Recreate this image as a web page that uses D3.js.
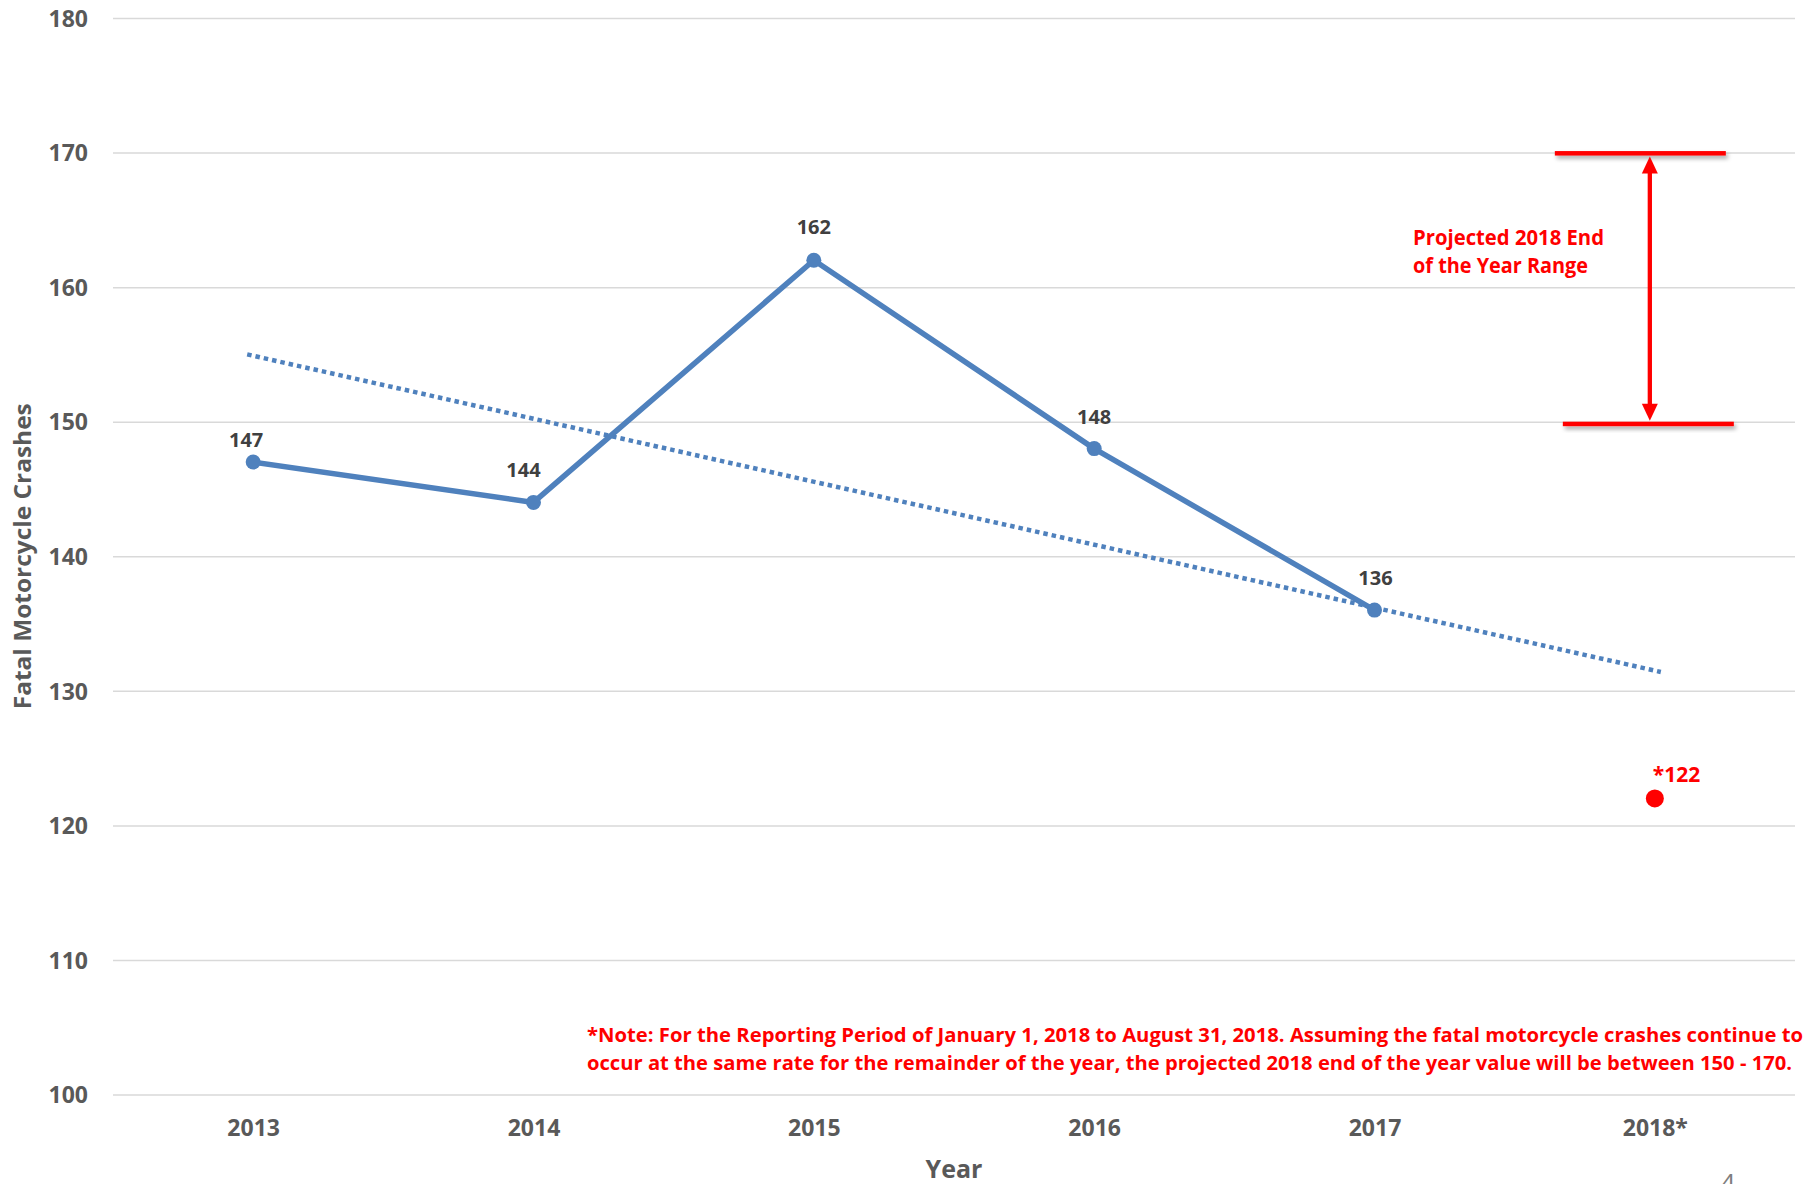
<!DOCTYPE html>
<html lang="en">
  <head>
    <meta charset="utf-8">
    <title>Fatal Motorcycle Crashes</title>
    <style>
      html, body { margin: 0; padding: 0; background: #fff; }
      svg { display: block; font-family: "Open Sans", sans-serif; }
    </style>
  </head>
  <body>
    <svg class="chart"></svg>

    <script src="https://d3js.org/d3.v7.min.js"></script>

    <script type="text/javascript">
      // data
      var years = ['2013', '2014', '2015', '2016', '2017', '2018*'];
      var crashes = [147, 144, 162, 148, 136];
      var partial2018 = 122;
      var trendEnds = [155.0, 131.4];        // linear trendline at 2013 and 2018*
      var projectedRange = [150, 170];
      var yTicks = [100, 110, 120, 130, 140, 150, 160, 170, 180];
      var noteLines = [
        '*Note: For the Reporting Period of January 1, 2018 to August 31, 2018.  Assuming the fatal motorcycle crashes continue to',
        'occur at the same rate for the remainder of the year, the projected 2018 end of the year value will be between 150 - 170.'
      ];

      var w = 1810;
      var h = 1184;
      var plotLeft = 113, plotRight = 1795, plotTop = 18, plotBottom = 1094.5;

      var svg = d3.select('.chart')
                  .attr('width', w)
                  .attr('height', h);

      var defs = svg.append('defs');
      var shadow = defs.append('filter')
                       .attr('id', 'shadow')
                       .attr('x', '-10%').attr('y', '-150%')
                       .attr('width', '120%').attr('height', '400%');
      shadow.append('feDropShadow')
            .attr('dx', 2).attr('dy', 3)
            .attr('stdDeviation', 2)
            .attr('flood-color', '#000')
            .attr('flood-opacity', 0.35);

      var x = d3.scalePoint()
                .domain(years)
                .range([plotLeft, plotRight])
                .padding(0.5);

      var y = d3.scaleLinear()
                .domain([100, 180])
                .range([plotBottom, plotTop]);

      // gridlines + y labels
      var yAxis = svg.append('g')
         .attr('transform', 'translate(' + plotLeft + ',0)')
         .call(d3.axisLeft(y).tickValues(yTicks).tickSize(-(plotRight - plotLeft)).tickPadding(25));
      yAxis.select('.domain').remove();
      yAxis.selectAll('.tick line')
           .attr('stroke', '#d9d9d9')
           .attr('stroke-width', 1.5);
      yAxis.selectAll('.tick text')
           .attr('fill', '#595959')
           .attr('font-size', 23)
           .attr('font-weight', 'bold')
           .attr('font-family', '"Open Sans", sans-serif')
           .attr('dy', '0.36em');

      // x labels
      var xAxis = svg.append('g')
         .attr('transform', 'translate(0,' + plotBottom + ')')
         .call(d3.axisBottom(x).tickSize(0).tickPadding(25));
      xAxis.select('.domain').remove();
      xAxis.selectAll('.tick text')
           .attr('fill', '#595959')
           .attr('font-size', 23)
           .attr('font-weight', 'bold')
           .attr('font-family', '"Open Sans", sans-serif');

      // axis titles
      svg.append('text')
         .attr('x', (plotLeft + plotRight) / 2)
         .attr('y', 1178)
         .attr('text-anchor', 'middle')
         .attr('fill', '#595959')
         .attr('font-size', 25)
         .attr('font-weight', 'bold')
         .text('Year');

      svg.append('text')
         .attr('transform', 'translate(31,' + (plotTop + plotBottom) / 2 + ') rotate(-90)')
         .attr('text-anchor', 'middle')
         .attr('fill', '#595959')
         .attr('font-size', 24)
         .attr('font-weight', 'bold')
         .attr('textLength', 306)
         .attr('lengthAdjust', 'spacingAndGlyphs')
         .text('Fatal Motorcycle Crashes');

      // trendline
      svg.append('line')
         .attr('x1', x(years[0]) - 6)
         .attr('y1', y(trendEnds[0]))
         .attr('x2', x(years[years.length - 1]) + 6)
         .attr('y2', y(trendEnds[1]))
         .attr('stroke', '#4f81bd')
         .attr('stroke-width', 4.5)
         .attr('stroke-dasharray', '4.5,4');

      // main series
      var pts = crashes.map(function(v, i) { return { year: years[i], value: v }; });
      var line = d3.line()
                   .x(function(d) { return x(d.year); })
                   .y(function(d) { return y(d.value); });

      svg.append('path')
         .datum(pts)
         .attr('d', line)
         .attr('fill', 'none')
         .attr('stroke', '#4f81bd')
         .attr('stroke-width', 5.5)
         .attr('stroke-linejoin', 'round');

      svg.selectAll('circle.pt')
         .data(pts)
         .enter()
         .append('circle')
         .attr('class', 'pt')
         .attr('cx', function(d) { return x(d.year); })
         .attr('cy', function(d) { return y(d.value); })
         .attr('r', 7.5)
         .attr('fill', '#4f81bd');

      // labels were nudged by hand in the original
      var labelDx = [-7, -10, 0, 0, 1];
      var labelDy = [-15.5, -25, -26, -25, -25];
      svg.selectAll('text.lbl')
         .data(pts)
         .enter()
         .append('text')
         .attr('class', 'lbl')
         .attr('x', function(d, i) { return x(d.year) + labelDx[i]; })
         .attr('y', function(d, i) { return y(d.value) + labelDy[i]; })
         .attr('text-anchor', 'middle')
         .attr('fill', '#404040')
         .attr('font-size', 20)
         .attr('font-weight', 'bold')
         .text(function(d) { return d.value; });

      // 2018 partial value
      var x18 = x(years[5]);
      svg.append('circle')
         .attr('cx', x18)
         .attr('cy', y(partial2018))
         .attr('r', 9)
         .attr('fill', '#ff0000');
      svg.append('text')
         .attr('x', x18 - 2)
         .attr('y', y(partial2018) - 16)
         .attr('fill', '#ff0000')
         .attr('font-size', 21)
         .attr('font-weight', 'bold')
         .text('*' + partial2018);

      // projected range bracket
      var yLo = y(projectedRange[0]);
      var yHi = y(projectedRange[1]);
      var bracket = svg.append('g');
      bracket.append('rect')
         .attr('x', x18 - 100).attr('width', 171)
         .attr('y', yHi - 1.5).attr('height', 4.5)
         .attr('fill', '#ff0000')
         .attr('filter', 'url(#shadow)');
      bracket.append('rect')
         .attr('x', x18 - 92).attr('width', 171)
         .attr('y', yLo).attr('height', 4.5)
         .attr('fill', '#ff0000')
         .attr('filter', 'url(#shadow)');

      var ax = x18 - 5;
      bracket.append('line')
         .attr('x1', ax).attr('x2', ax)
         .attr('y1', yHi + 18).attr('y2', yLo - 14)
         .attr('stroke', '#ff0000').attr('stroke-width', 4.3);
      bracket.append('path')
         .attr('d', 'M' + ax + ',' + (yHi + 4) + 'l8,17h-16z')
         .attr('fill', '#ff0000');
      bracket.append('path')
         .attr('d', 'M' + ax + ',' + (yLo - 1) + 'l8,-17h-16z')
         .attr('fill', '#ff0000');

      var rangeText = svg.append('text')
         .attr('fill', '#ff0000')
         .attr('font-size', 22)
         .attr('font-weight', 'bold');
      rangeText.append('tspan')
         .attr('x', 1413).attr('y', 245)
         .attr('textLength', 191).attr('lengthAdjust', 'spacingAndGlyphs')
         .text('Projected 2018 End');
      rangeText.append('tspan')
         .attr('x', 1413).attr('y', 273)
         .attr('textLength', 175).attr('lengthAdjust', 'spacingAndGlyphs')
         .text('of the Year Range');

      // footnote
      var noteWidths = [1216, 1205];
      svg.selectAll('text.note')
         .data(noteLines)
         .enter()
         .append('text')
         .attr('class', 'note')
         .attr('x', 587)
         .attr('y', function(d, i) { return 1042 + i * 28; })
         .attr('textLength', function(d, i) { return noteWidths[i]; })
         .attr('lengthAdjust', 'spacingAndGlyphs')
         .attr('fill', '#ff0000')
         .attr('font-size', 20)
         .attr('font-weight', 'bold')
         .text(function(d) { return d; });

      // page number, cut by the bottom edge
      svg.append('text')
         .attr('x', 1728)
         .attr('y', 1192)
         .attr('text-anchor', 'middle')
         .attr('fill', '#7f7f7f')
         .attr('font-size', 26)
         .text('4');
    </script>
  </body>
</html>
